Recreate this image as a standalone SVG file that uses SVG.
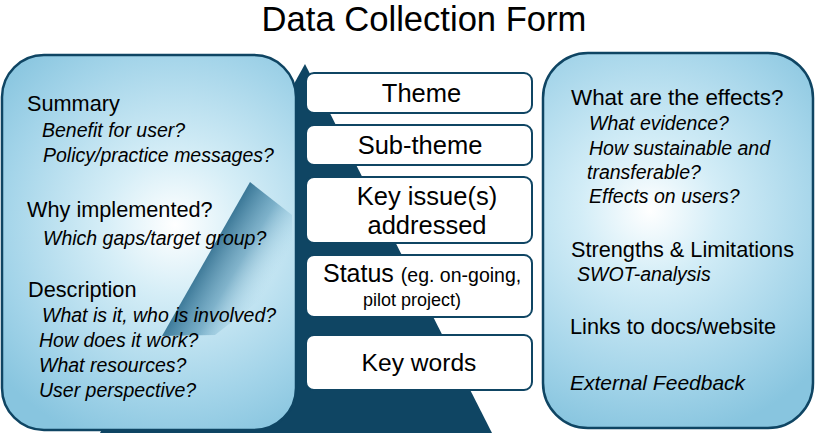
<svg xmlns="http://www.w3.org/2000/svg" width="815" height="437" viewBox="0 0 815 437">
<defs>
<radialGradient id="gl" cx="175" cy="225" r="230" gradientUnits="userSpaceOnUse">
<stop offset="0" stop-color="#ffffff"/>
<stop offset="0.3" stop-color="#d6eef7"/>
<stop offset="0.75" stop-color="#a3d4e9"/>
<stop offset="1" stop-color="#88c5df"/>
</radialGradient>
<radialGradient id="gr" cx="650" cy="210" r="230" gradientUnits="userSpaceOnUse">
<stop offset="0" stop-color="#ffffff"/>
<stop offset="0.3" stop-color="#d3edf7"/>
<stop offset="0.75" stop-color="#a3d4e9"/>
<stop offset="1" stop-color="#88c5df"/>
</radialGradient>
<linearGradient id="gw" x1="205" y1="250" x2="268" y2="287" gradientUnits="userSpaceOnUse">
<stop offset="0" stop-color="#1d5f82" stop-opacity="0.9"/>
<stop offset="0.5" stop-color="#3f85a8" stop-opacity="0.55"/>
<stop offset="1" stop-color="#9fd0e6" stop-opacity="0"/>
</linearGradient>
<style>
.panel{stroke:#0f4563;stroke-width:2.5}
.box{fill:#ffffff;stroke:#0f4563;stroke-width:2}
.t{font-family:"Liberation Sans",Arial,sans-serif;fill:#000}
.h{font-size:21.7px}
.s{font-size:19.5px;font-style:italic}
.b{font-size:25.5px;text-anchor:middle}
</style>
</defs>
<text class="t" x="424" y="31" font-size="34.6" text-anchor="middle">Data Collection Form</text>
<g id="pyramid">
<polygon points="305,64 100,433 492,433" fill="#0f4563"/>
</g>
<g id="left-panel">
<rect class="panel" x="2" y="55" width="294" height="375" rx="42" fill="url(#gl)"/>
<polygon points="250,182 292,215 292,275 215,335 162,336" fill="url(#gw)"/>
<text class="t h" x="27" y="111">Summary</text>
<text class="t s" x="42" y="137">Benefit for user?</text>
<text class="t s" x="43" y="162">Policy/practice messages?</text>
<text class="t h" x="27" y="217">Why implemented?</text>
<text class="t s" x="43" y="245">Which gaps/target group?</text>
<text class="t h" x="28" y="297">Description</text>
<text class="t s" x="42" y="322">What is it, who is involved?</text>
<text class="t s" x="39" y="347">How does it work?</text>
<text class="t s" x="39" y="372">What resources?</text>
<text class="t s" x="39" y="397">User perspective?</text>
</g>
<g id="right-panel">
<rect class="panel" x="543" y="53" width="270" height="375" rx="45" fill="url(#gr)"/>
<text class="t h" x="571" y="105" style="font-size:22.4px">What are the effects?</text>
<text class="t s" x="589" y="130">What evidence?</text>
<text class="t s" x="589" y="155">How sustainable and</text>
<text class="t s" x="587" y="179">transferable?</text>
<text class="t s" x="589" y="203">Effects on users?</text>
<text class="t h" x="571" y="257">Strengths &amp; Limitations</text>
<text class="t s" x="577" y="281">SWOT-analysis</text>
<text class="t h" x="570" y="334">Links to docs/website</text>
<text class="t s" x="570" y="390" style="font-size:21px">External Feedback</text>
</g>
<g id="theme">
<rect class="box" x="306" y="73" width="226" height="40" rx="8"/>
<text class="t b" x="421.5" y="102">Theme</text>
</g>
<g id="sub-theme">
<rect class="box" x="306" y="125" width="226" height="40" rx="8"/>
<text class="t b" x="420" y="154">Sub-theme</text>
</g>
<g id="key-issues">
<rect class="box" x="306" y="177" width="226" height="66" rx="8"/>
<text class="t b" x="427" y="205">Key issue(s)</text>
<text class="t b" x="427" y="234">addressed</text>
</g>
<g id="status">
<rect class="box" x="306" y="255" width="226" height="62" rx="8"/>
<text class="t" x="323" y="282" font-size="25">Status <tspan font-size="19.5">(eg. on-going,</tspan></text>
<text class="t" x="412" y="306" font-size="18" text-anchor="middle">pilot project)</text>
</g>
<g id="key-words">
<rect class="box" x="306" y="335" width="226" height="55" rx="8"/>
<text class="t b" x="419" y="371" style="font-size:24.6px">Key words</text>
</g>
<g id="connectors"/>
</svg>
